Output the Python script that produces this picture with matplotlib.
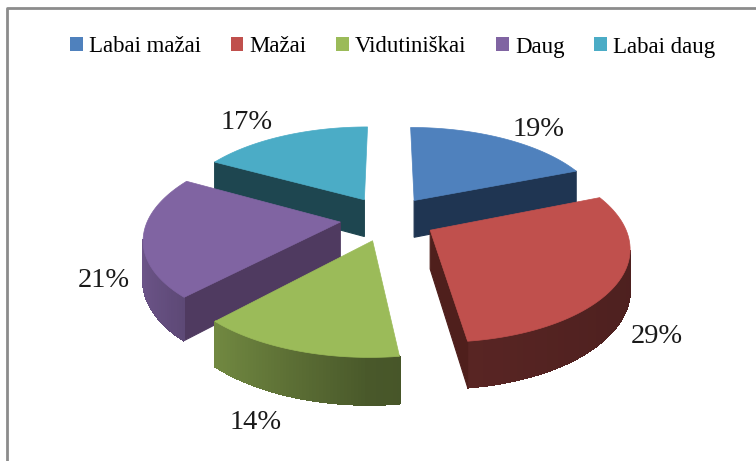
import numpy as np
import matplotlib
matplotlib.use("Agg")
import matplotlib.pyplot as plt
from matplotlib.patches import Patch, Polygon

# data
names = ["Labai mažai", "Mažai", "Vidutiniškai", "Daug", "Labai daug"]
shares = [19, 29, 14, 21, 17]
colors = ["#4f81bd", "#c0504d", "#9bbb59", "#8064a2", "#4bacc6"]
wall_colors = ["#1f3552", "#4f1f1c", "#4f5f2a", "#4f3a60", "#1e4650"]

# camera of the fake 3d pie, in pixels
CX, CY = 388, 218.5
RX, RY = 192, 90
PERSP = 0.16
EXPLODE = 0.25
DEPTH = 38

# label shift from the middle of each rim, pixels
label_shift = [(35, -9), (39, 16), (-41, 34), (-39, 6), (-37, -13)]
draw_order = [4, 0, 3, 1, 2]


def project(x, y, down=0):
    d = 1 + PERSP * y
    return CX + RX * x / d, CY - RY * y / d + down / d


def shade(c, s):
    return tuple(v * s for v in matplotlib.colors.to_rgb(c))


fig = plt.figure(figsize=(7.56, 4.61), dpi=100)
ax = fig.add_axes([0, 0, 1, 1])
ax.set_xlim(0, 756)
ax.set_ylim(461, 0)
ax.axis("off")

# frame of the pasted chart
ax.plot([7, 7, 756], [461, 8, 8], color="#8c8c8c", lw=2)

edges = np.cumsum([0] + shares) / sum(shares) * 2 * np.pi

for i in draw_order:
    a0, a1 = edges[i], edges[i + 1]
    mid = (a0 + a1) / 2
    ox, oy = EXPLODE * np.sin(mid), EXPLODE * np.cos(mid)
    ang = np.linspace(a0, a1, 60)
    xs = np.concatenate([[ox], ox + np.sin(ang)])
    ys = np.concatenate([[oy], oy + np.cos(ang)])

    n = len(xs)
    for k in range(n):
        j = (k + 1) % n
        x0, y0 = project(xs[k], ys[k])
        x1, y1 = project(xs[j], ys[j])
        flat = k == 0 or k == n - 1
        if x1 >= x0 or (flat and x0 - x1 < 6):
            continue  # this side looks away from us
        x2, y2 = project(xs[j], ys[j], DEPTH)
        x3, y3 = project(xs[k], ys[k], DEPTH)
        if flat:
            c = wall_colors[i]
        else:
            c = shade(colors[i], np.interp(np.sin(ang[k - 1]), [-1, 0, 1], [0.85, 0.47, 0.4]))
        ax.add_patch(Polygon([(x0, y0), (x1, y1), (x2, y2), (x3, y3)], fc=c, ec=c, lw=0.8,
                             antialiased=flat))

    top = [project(x, y) for x, y in zip(xs, ys)]
    ax.add_patch(Polygon(top, fc=colors[i], ec=colors[i], lw=0.5))

    lx, ly = project(ox + np.sin(mid), oy + np.cos(mid))
    if np.cos(mid) < 0:
        ly += DEPTH
    ax.text(lx + label_shift[i][0], ly + label_shift[i][1], f"{shares[i]}%",
            ha="center", va="center", fontsize=20.5, family="Liberation Serif", color="#1a1a1a")

handles = [Patch(fc=c, ec="none") for c in colors]
ax.legend(handles, names, loc="center", bbox_to_anchor=(392.5 / 756, 1 - 47 / 461), ncol=5,
          frameon=False, prop={"family": "Liberation Serif", "size": 16.5},
          handlelength=0.56, handleheight=0.56, handletextpad=0.26, columnspacing=1.3,
          borderpad=0, borderaxespad=0)

fig.savefig("out.png", dpi=100)
